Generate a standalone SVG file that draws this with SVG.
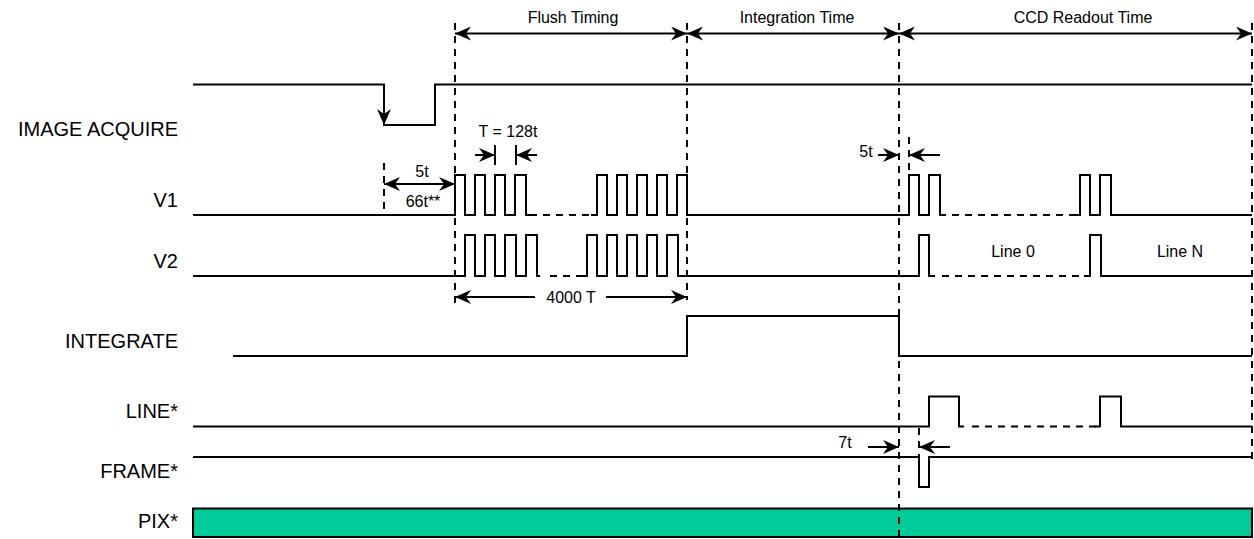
<svg xmlns="http://www.w3.org/2000/svg" width="1254" height="539" viewBox="0 0 1254 539">
<style>
.sig{fill:none;stroke:#000;stroke-width:2;stroke-linejoin:miter}
.dash{fill:none;stroke:#000;stroke-width:2;stroke-dasharray:7 6}
.ar{fill:none;stroke:#000;stroke-width:2}
.lbl{font-family:"Liberation Sans",Arial,Helvetica,sans-serif;font-size:20px;fill:#000;text-anchor:end}
.ann{font-family:"Liberation Sans",Arial,Helvetica,sans-serif;font-size:16px;fill:#000;text-anchor:middle}
</style>
<defs>
<marker id="ah" viewBox="0 0 16 14" refX="16" refY="7" markerWidth="16" markerHeight="14" markerUnits="userSpaceOnUse" orient="auto-start-reverse">
<path d="M0,0 L16,7 L0,14 L5,7 Z" fill="#000"/>
</marker>
</defs>
<rect width="1254" height="539" fill="#fff"/>

<g id="pix">
<rect x="193" y="508.5" width="1059" height="28.5" fill="#00CC99" stroke="#000" stroke-width="2"/>
<text class="lbl" x="178" y="528">PIX*</text>
</g>

<g id="image-acquire">
<text class="lbl" x="178" y="136">IMAGE ACQUIRE</text>
<path class="sig" d="M193,84.5 H384 V125 H435 V84.5 H1252"/>
<line class="ar" x1="384" y1="90" x2="384" y2="125" marker-end="url(#ah)"/>
</g>

<g id="v1">
<text class="lbl" x="178" y="207">V1</text>
<path class="sig" d="M193,215 H455 V175 H465 V215 H475 V175 H485 V215 H495 V175 H505 V215 H515 V175 H526 V215 H537"/>
<path class="dash" d="M543,215 H597"/>
<path class="sig" d="M591,215 H597 V175 H607 V215 H617 V175 H627 V215 H637 V175 H647 V215 H657 V175 H667 V215 H677 V175 H687 V215 H909 V175 H919 V215 H929 V175 H940 V215 H946"/>
<path class="dash" d="M952,215 H1080"/>
<path class="sig" d="M1074,215 H1080 V175 H1090 V215 H1100 V175 H1111 V215 H1252"/>
</g>

<g id="v2">
<text class="lbl" x="178" y="268">V2</text>
<path class="sig" d="M193,276 H465 V235 H475 V276 H485 V235 H495 V276 H505 V235 H516 V276 H526 V235 H537 V276 H540"/>
<path class="dash" d="M550,276 H587"/>
<path class="sig" d="M583,276 H587 V235 H597 V276 H607 V235 H617 V276 H627 V235 H637 V276 H647 V235 H657 V276 H667 V235 H678 V276 H919 V235 H929 V276 H935"/>
<path class="dash" d="M942,276 H1090"/>
<path class="sig" d="M1084,276 H1090 V235 H1101 V276 H1252"/>
<text class="ann" x="1013" y="257">Line 0</text>
<text class="ann" x="1180" y="257">Line N</text>
</g>

<g id="integrate">
<text class="lbl" x="178" y="348">INTEGRATE</text>
<path class="sig" d="M233,356 H687 V316 H899 V356 H1252"/>
</g>

<g id="line">
<text class="lbl" x="178" y="418">LINE*</text>
<path class="sig" d="M193,426.5 H929 V396.5 H959 V426.5 H964"/>
<path class="dash" d="M972,426.5 H1100"/>
<path class="sig" d="M1094,426.5 H1100 V396.5 H1121 V426.5 H1252"/>
</g>

<g id="frame">
<text class="lbl" x="178" y="478">FRAME*</text>
<path class="sig" d="M193,457 H919 V487 H929 V457 H1252"/>
</g>

<g id="connectors">
<path class="dash" d="M455,23 V308"/>
<path class="dash" d="M687,23 V300"/>
<path class="dash" d="M899,23 V539"/>
<path class="dash" d="M1252,23 V460"/>
<path class="dash" d="M384,163 V215"/>
<path class="dash" d="M909,137 V175"/>
<path class="dash" d="M919,428 V457"/>

<line class="ar" x1="455" y1="33.5" x2="687" y2="33.5" marker-start="url(#ah)" marker-end="url(#ah)"/>
<line class="ar" x1="687" y1="33.5" x2="899" y2="33.5" marker-start="url(#ah)" marker-end="url(#ah)"/>
<line class="ar" x1="899" y1="33.5" x2="1252" y2="33.5" marker-start="url(#ah)" marker-end="url(#ah)"/>

<line class="ar" x1="384" y1="184" x2="455" y2="184" marker-start="url(#ah)" marker-end="url(#ah)"/>

<line class="ar" x1="475" y1="155" x2="495" y2="155" marker-end="url(#ah)"/>
<line class="ar" x1="495" y1="145" x2="495" y2="165"/>
<line class="ar" x1="516" y1="145" x2="516" y2="165"/>
<line class="ar" x1="537" y1="155" x2="516" y2="155" marker-end="url(#ah)"/>

<line class="ar" x1="535" y1="297" x2="455" y2="297" marker-end="url(#ah)"/>
<line class="ar" x1="606" y1="297" x2="687" y2="297" marker-end="url(#ah)"/>

<line class="ar" x1="878" y1="155" x2="899" y2="155" marker-end="url(#ah)"/>
<line class="ar" x1="940" y1="155" x2="909" y2="155" marker-end="url(#ah)"/>

<line class="ar" x1="868" y1="447" x2="899" y2="447" marker-end="url(#ah)"/>
<line class="ar" x1="950" y1="447" x2="919" y2="447" marker-end="url(#ah)"/>
</g>

<g id="annotations">
<text class="ann" x="573" y="23">Flush Timing</text>
<text class="ann" x="797" y="23">Integration Time</text>
<text class="ann" x="1083" y="23">CCD Readout Time</text>
<text class="ann" x="508" y="137">T = 128t</text>
<text class="ann" x="422" y="177">5t</text>
<text class="ann" x="423" y="207">66t**</text>
<text class="ann" x="571" y="303">4000 T</text>
<text class="ann" x="866" y="157">5t</text>
<text class="ann" x="845" y="448">7t</text>
</g>
</svg>
